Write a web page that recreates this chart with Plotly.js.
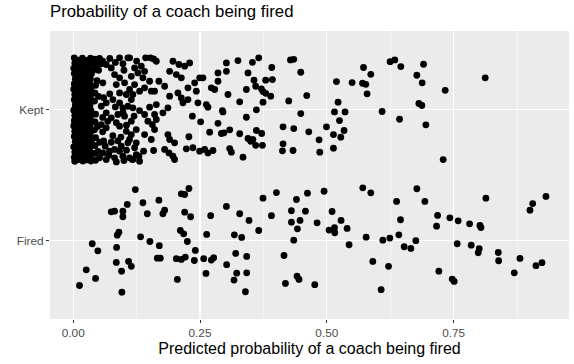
<!DOCTYPE html>
<html>
<head>
<meta charset="utf-8">
<script src="https://cdn.plot.ly/plotly-3.0.1.min.js"></script>
<style>html,body{margin:0;padding:0;background:#fff;}#chart{width:574px;height:364px;}</style>
</head>
<body>
<div id="chart"></div>
<script>
// Category labels and ticks
const yCategories = ["Fired", "Kept"];
const yCategoryVals = [1, 2];
const xTickVals = [0, 0.25, 0.5, 0.75];
const xTickText = ["0.00", "0.25", "0.50", "0.75"];
const xMinorVals = [0.125, 0.375, 0.625, 0.875];

// Fired coaches: [predicted probability, jittered category position]
const firedPts = [
[0.1224,1.389],[0.2281,1.397],[0.2131,1.356],[0.2197,1.351],[0.0750,1.219],[0.0815,1.224],[0.0979,1.224],[0.0979,1.181],[0.1066,1.275],[0.1374,1.288],
[0.1689,1.308],[0.1460,1.204],[0.1768,1.204],[0.1802,1.231],[0.2197,1.216],[0.2315,1.181],[0.2710,1.189],[0.3020,1.260],[0.3282,1.204],[0.3466,1.153],
[0.3742,1.323],[0.4006,1.366],[0.3908,1.189],[0.4302,1.227],[0.4401,1.313],[0.4618,1.361],[0.4302,1.140],[0.4472,1.153],[0.4421,1.089],[0.4579,1.224],
[0.3657,1.076],[0.0900,1.063],[0.0868,1.040],[0.2112,1.076],[0.2177,1.051],[0.0375,0.975],[0.0485,0.921],[0.0855,0.947],[0.1328,1.028],[0.1512,0.992],
[0.1697,0.960],[0.2250,0.992],[0.2408,0.924],[0.2631,1.046],[0.3177,1.043],[0.3321,1.023],[0.4348,1.002],[0.0849,0.832],[0.1091,0.840],[0.1145,0.802],
[0.1658,0.865],[0.1717,0.865],[0.2033,0.861],[0.2131,0.855],[0.2210,0.873],[0.2388,0.847],[0.2572,0.861],[0.2723,0.850],[0.2769,0.868],[0.3203,0.901],
[0.3420,0.878],[0.3025,0.815],[0.4156,0.885],[0.0257,0.776],[0.0953,0.765],[0.0440,0.710],[0.0124,0.656],[0.2053,0.702],[0.2617,0.748],[0.3223,0.750],
[0.3420,0.753],[0.3170,0.697],[0.4184,0.672],[0.4413,0.727],[0.4452,0.702],[0.0959,0.605],[0.3395,0.608],[0.4946,1.376],[0.5709,1.402],[0.5867,1.364],
[0.6775,1.395],[0.6375,1.298],[0.6933,1.298],[0.8137,1.323],[0.9059,1.282],[0.9005,1.231],[0.9321,1.336],[0.4808,1.135],[0.5104,1.221],[0.5281,1.153],
[0.5400,1.092],[0.5044,1.079],[0.5151,1.097],[0.5157,1.059],[0.6453,1.158],[0.7184,1.191],[0.7164,1.109],[0.7426,1.173],[0.7590,1.150],[0.7815,1.127],
[0.8019,1.115],[0.8038,1.099],[0.5439,0.967],[0.5775,1.025],[0.6104,1.002],[0.6242,1.018],[0.6420,1.043],[0.6525,0.952],[0.6657,0.939],[0.6755,0.998],
[0.7571,0.975],[0.7847,0.964],[0.8005,0.937],[0.7985,0.906],[0.8380,0.908],[0.8388,0.845],[0.8808,0.863],[0.8696,0.753],[0.9124,0.807],[0.9242,0.830],
[0.5907,0.840],[0.6217,0.802],[0.7209,0.765],[0.7472,0.705],[0.7511,0.687],[0.4762,0.662],[0.6071,0.624]
];

// Kept coaches with very low predicted probability (dense cluster near 0)
const keptLowPts = [
[0.002,2.395],[0.003,2.355],[0.001,2.315],[0.002,2.275],[0.004,2.235],[0.002,2.195],[0.001,2.155],[0.003,2.115],[0.002,2.075],[0.004,2.035],[0.001,1.995],
[0.003,1.955],[0.002,1.915],[0.001,1.875],[0.003,1.835],[0.002,1.795],[0.004,1.755],[0.001,1.715],[0.003,1.675],[0.002,1.635],[0.003,1.605],
[0.010,2.378],[0.011,2.338],[0.009,2.298],[0.012,2.258],[0.010,2.218],[0.009,2.178],[0.011,2.138],[0.010,2.098],[0.012,2.058],[0.009,2.018],
[0.011,1.978],[0.010,1.938],[0.012,1.898],[0.009,1.858],[0.011,1.818],[0.010,1.778],[0.012,1.738],[0.009,1.698],[0.011,1.658],[0.010,1.618],
[0.018,2.392],[0.019,2.352],[0.017,2.312],[0.020,2.272],[0.018,2.232],[0.017,2.192],[0.019,2.152],[0.018,2.112],[0.020,2.072],[0.017,2.032],[0.019,1.992],
[0.018,1.952],[0.020,1.912],[0.017,1.872],[0.019,1.832],[0.018,1.792],[0.020,1.752],[0.017,1.712],[0.019,1.672],[0.018,1.632],[0.019,1.606],
[0.026,2.375],[0.027,2.335],[0.025,2.295],[0.028,2.255],[0.026,2.215],[0.025,2.175],[0.027,2.135],[0.026,2.095],[0.028,2.055],[0.025,2.015],
[0.027,1.975],[0.026,1.935],[0.028,1.895],[0.025,1.855],[0.027,1.815],[0.026,1.775],[0.028,1.735],[0.025,1.695],[0.027,1.655],[0.026,1.615],
[0.034,2.393],[0.035,2.353],[0.033,2.313],[0.036,2.273],[0.034,2.233],[0.033,2.193],[0.035,2.153],[0.034,2.113],[0.036,2.073],[0.033,2.033],[0.035,1.993],
[0.034,1.953],[0.036,1.913],[0.033,1.873],[0.035,1.833],[0.034,1.793],[0.036,1.753],[0.033,1.713],[0.035,1.673],[0.034,1.633],[0.035,1.607],
[0.043,2.385],[0.045,2.345],[0.042,2.305],[0.044,2.185],[0.043,2.125],[0.042,2.065],[0.044,1.965],[0.043,1.905],[0.042,1.845],[0.044,1.785],
[0.043,1.725],[0.042,1.665],[0.044,1.612],[0.052,2.390],[0.055,2.350],[0.050,2.300],[0.050,2.100],[0.048,1.870],[0.052,1.750],[0.049,1.680],[0.047,2.220],
[0.058,2.370],[0.072,2.390],[0.083,2.360],[0.098,2.350],[0.125,2.370],[0.100,2.300],[0.060,2.090],[0.072,2.120],[0.083,2.020],[0.058,1.940],
[0.085,1.900],[0.098,1.980],[0.120,1.950],[0.068,1.910],[0.105,1.880],[0.058,1.830],[0.078,1.800],[0.094,1.790],[0.060,1.760],[0.075,1.750],
[0.088,1.760],[0.105,1.690],[0.063,1.720],[0.070,1.650],[0.085,1.600],[0.100,1.610],[0.118,1.620]
];

// Other kept coaches
const keptPts = [
[0.0651,2.344],[0.0750,2.318],[0.0815,2.267],[0.0914,2.242],[0.0584,2.204],[0.0849,2.191],[0.1012,2.204],[0.1111,2.153],[0.1046,2.115],
[0.0914,2.127],[0.0782,2.076],[0.0651,2.051],[0.0553,2.025],[0.0914,2.051],[0.0979,2.013],[0.1078,2.025],[0.0651,1.975],[0.0750,1.937],[0.0880,1.962],
[0.1012,1.949],[0.1145,1.911],[0.0553,1.885],[0.0651,1.860],[0.0914,1.873],[0.1046,1.834],[0.1145,1.809],[0.1078,1.746],[0.0947,1.720],[0.0815,1.695],
[0.0716,1.682],[0.0584,1.669],[0.0519,1.631],[0.0651,1.618],[0.0815,1.631],[0.0979,1.644],[0.1111,1.631],[0.1243,1.656],[0.0914,1.682],[0.1243,1.847],
[0.1210,1.708],[0.0914,2.395],[0.1078,2.395],
[0.1427,2.395],[0.1520,2.395],[0.1585,2.387],[0.1638,2.369],[0.1111,2.395],[0.1966,2.369],[0.2084,2.344],[0.2197,2.331],[0.2295,2.356],[0.1901,2.292],
[0.2033,2.267],[0.2131,2.242],[0.1689,2.216],[0.1802,2.178],[0.1604,2.140],[0.1539,2.140],[0.1901,2.102],[0.2064,2.127],[0.2131,2.089],[0.2163,2.051],
[0.2262,2.076],[0.2262,2.166],[0.2394,2.204],[0.2493,2.242],[0.2558,2.242],[0.2427,2.140],[0.2723,2.166],[0.2789,2.153],[0.2854,2.216],[0.2854,2.280],
[0.3020,2.356],[0.3020,2.292],[0.3248,2.374],[0.3446,2.280],[0.3414,2.153],[0.3051,2.115],[0.2459,2.051],[0.2625,2.038],[0.2656,2.018],[0.3282,2.059],
[0.2941,1.992],[0.2952,1.982],[0.3414,1.941],[0.2349,1.949],[0.2512,1.906],[0.2854,1.895],[0.2690,1.827],[0.2921,1.817],[0.2972,1.822],[0.3085,1.845],
[0.3282,1.815],[0.3446,1.779],[0.3499,1.758],[0.2281,1.792],[0.1867,1.809],[0.1901,1.771],[0.1999,1.746],[0.1802,1.695],[0.1887,1.669],[0.1966,1.644],
[0.1999,1.618],[0.2230,1.700],[0.2360,1.708],[0.2493,1.682],[0.2591,1.695],[0.2656,1.669],[0.2755,1.687],[0.3085,1.702],[0.3118,1.674],[0.3347,1.636],
[0.1585,1.687],[0.1387,1.682],[0.1295,1.644],[0.1308,1.605],[0.1164,1.618],[0.1407,1.809],[0.1539,1.771],[0.1243,1.746],[0.1111,1.771],[0.1176,2.013],
[0.1308,1.992],[0.1407,1.962],[0.1506,2.018],[0.1638,2.038],[0.1604,1.962],[0.1638,1.924],[0.1559,1.885],[0.1604,1.847],[0.1472,1.911],[0.1867,2.013],
[0.1768,1.975],[0.1210,2.191],[0.1308,2.140],[0.1407,2.166],[0.1506,2.216],[0.1374,2.242],[0.1176,2.115],[0.1145,2.076],[0.1210,2.318],[0.1342,2.331],
[0.1407,2.292],[0.1275,2.280],[0.1145,2.254],
[0.3533,2.361],[0.3657,2.395],[0.3914,2.321],[0.4283,2.379],[0.4348,2.384],[0.4486,2.285],[0.3564,2.224],[0.3795,2.224],[0.3927,2.229],[0.3598,2.178],
[0.3710,2.158],[0.3742,2.137],[0.3795,2.124],[0.3894,2.102],[0.3742,2.056],[0.3612,1.998],[0.4249,2.066],[0.4604,2.107],[0.4486,1.969],[0.4137,1.868],
[0.4348,1.855],[0.4644,1.830],[0.3612,1.840],[0.3716,1.817],[0.3544,1.771],[0.3598,1.727],[0.3730,1.727],[0.4137,1.738],[0.4125,1.685],[0.4334,1.687],
[0.4847,1.769],[0.4861,1.674],[0.4993,1.868],[0.5131,1.809],[0.5275,1.789],[0.5340,1.840],[0.5131,1.705],[0.5190,2.214],[0.5222,2.056],[0.5151,1.982],
[0.5360,1.982],[0.5250,1.916],[0.5498,2.206],[0.5704,2.201],[0.5769,2.193],[0.5723,2.321],[0.5867,2.269],[0.5794,2.120],[0.6090,1.985],[0.6248,2.366],
[0.6341,2.379],[0.6459,2.328],[0.6434,1.926],[0.6775,2.262],[0.6880,2.204],[0.6907,2.346],[0.6815,2.046],[0.6874,2.031],[0.6953,1.883],[0.7334,2.147],
[0.7294,1.618],[0.8123,2.242]
];

const allKept = keptLowPts.concat(keptPts);
const marker = {color: "#000000", size: 6.8, line: {width: 0}};

const traces = [
  {type: "scatter", mode: "markers", x: firedPts.map(p => p[0]), y: firedPts.map(p => p[1]), marker: marker, hoverinfo: "skip", showlegend: false},
  {type: "scatter", mode: "markers", x: allKept.map(p => p[0]), y: allKept.map(p => p[1]), marker: marker, hoverinfo: "skip", showlegend: false}
];

const fontFam = "Liberation Sans, Arial, Helvetica, sans-serif";
const layout = {
  width: 574, height: 364,
  margin: {l: 50, r: 5, t: 31, b: 45, pad: 0},
  paper_bgcolor: "#ffffff",
  plot_bgcolor: "#EBEBEB",
  font: {family: fontFam, color: "#000"},
  showlegend: false,
  title: {
    text: "Probability of a coach being fired",
    font: {family: fontFam, size: 16.8, color: "#000"},
    x: 0, xref: "paper", xanchor: "left",
    y: 0.985, yref: "container", yanchor: "top"
  },
  xaxis: {
    range: [-0.0458, 0.9775],
    tickmode: "array", tickvals: xTickVals, ticktext: xTickText,
    showgrid: true, gridcolor: "#ffffff", gridwidth: 1.1,
    minor: {tickmode: "array", tickvals: xMinorVals, showgrid: true, gridcolor: "#ffffff", gridwidth: 0.5, ticks: ""},
    zeroline: false, showline: false,
    ticks: "outside", ticklen: 3, tickwidth: 1, tickcolor: "#333333",
    tickfont: {family: fontFam, size: 11.8, color: "#4D4D4D"},
    title: {text: "Predicted probability of a coach being fired", font: {family: fontFam, size: 16, color: "#000"}, standoff: 2},
    fixedrange: true
  },
  yaxis: {
    range: [0.4, 2.6],
    tickmode: "array", tickvals: yCategoryVals, ticktext: yCategories,
    showgrid: true, gridcolor: "#ffffff", gridwidth: 1.1,
    zeroline: false, showline: false,
    ticks: "outside", ticklen: 3, tickwidth: 1, tickcolor: "#333333",
    tickfont: {family: fontFam, size: 11.8, color: "#4D4D4D"},
    fixedrange: true
  }
};

Plotly.newPlot("chart", traces, layout, {staticPlot: true, displayModeBar: false});
</script>
</body>
</html>
